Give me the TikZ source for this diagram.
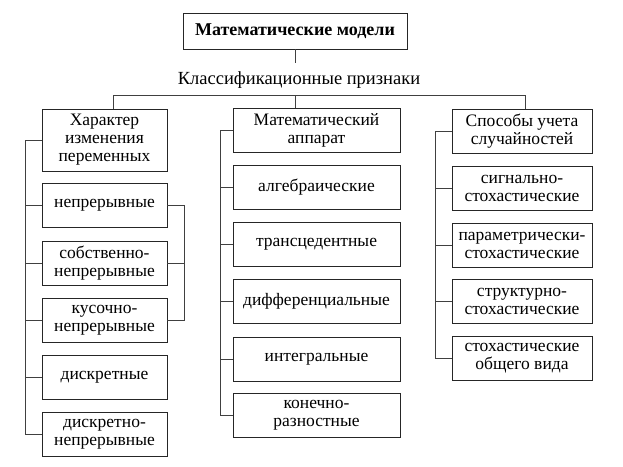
\documentclass[tikz,border=0pt]{standalone}
\usepackage{fontspec}
\setmainfont{Liberation Serif}
\usetikzlibrary{positioning}

\begin{document}
\begin{tikzpicture}[x=1pt,y=-1pt,
    txt/.style={font=\fontsize{17.5}{18}\selectfont},
    box/.style={draw=black!85,line width=0.8pt,align=center,inner sep=0pt,
                minimum height=44pt,txt},
    boxL/.style={box,minimum width=125pt},
    boxM/.style={box,minimum width=167pt},
    boxR/.style={box,minimum width=140pt},
    link/.style={draw=black!75,line width=0.8pt}]
    \useasboundingbox (0,0) rectangle (623,466);

    \node[box,minimum width=224pt,minimum height=36pt,font=\fontsize{18}{20}\selectfont\bfseries] (models) at (295,31) {Математические модели};

    % label
    \node[font=\fontsize{18.5}{20}\selectfont] (signs) at (299,80) {Классификационные признаки};
    \coordinate (stem) at (295,63);
    \coordinate (busL) at (113,95);
    \coordinate (busR) at (525,95);

    % left column
    \node[boxL,minimum height=62pt] (hdrL) at (104.5,140) {Характер\\изменения\\переменных};
    \node[boxL] (l1) at (104.5,205.5) {непрерывные};
    \node[boxL] (l2) at (104.5,263) {собственно-\\непрерывные};
    \node[boxL] (l3) at (104.5,320) {кусочно-\\непрерывные};
    \node[boxL] (l4) at (104.5,377) {дискретные};
    \node[boxL] (l5) at (104.5,434) {дискретно-\\непрерывные};
    \coordinate (trunkL) at (25,0);
    \coordinate (brace) at (184,0);

    % middle column
    \node[boxM] (hdrM) at (316.5,130) {Математический\\аппарат};
    \node[boxM] (m1) at (316.5,187) {алгебраические};
    \node[boxM] (m2) at (316.5,244.5) {трансцедентные};
    \node[boxM] (m3) at (316.5,301.5) {дифференциальные};
    \node[boxM] (m4) at (316.5,359) {интегральные};
    \node[boxM] (m5) at (316.5,415.5) {конечно-\\разностные};
    \coordinate (trunkM) at (220,0);

    % right column
    \node[boxR] (hdrR) at (522,131) {Способы учета\\случайностей};
    \node[boxR] (r1) at (522,188) {сигнально-\\стохастические};
    \node[boxR] (r2) at (522,245) {параметрически-\\стохастические};
    \node[boxR] (r3) at (522,301.5) {структурно-\\стохастические};
    \node[boxR] (r4) at (522,358.5) {стохастические\\общего вида};
    \coordinate (trunkR) at (435,0);

    \draw[link] (models.south) -- (stem);
    \draw[link] (busL) -- (busR);
    \draw[link] (busL) -- (busL |- hdrL.north);
    \draw[link] (stem |- busL) -- (stem |- hdrM.north);
    \draw[link] (busR) -- (busR |- hdrR.north);

    \draw[link] (hdrL.west) -- (hdrL.west -| trunkL) |- (l5.west);
    \draw[link] (hdrM.west) -- (hdrM.west -| trunkM) |- (m5.west);
    \draw[link] (hdrR.west) -- (hdrR.west -| trunkR) |- (r4.west);

    \foreach \from/\to in {l1/trunkL,l2/trunkL,l3/trunkL,l4/trunkL,m1/trunkM,m2/trunkM,m3/trunkM,m4/trunkM,r1/trunkR,r2/trunkR,r3/trunkR}
    \draw[link] (\from.west)--(\from.west -| \to);

    \draw[link] (l1.east) -- (l1.east -| brace) |- (l3.east);
    \draw[link] (l2.east) -- (l2.east -| brace);

  \end{tikzpicture}
\end{document}
